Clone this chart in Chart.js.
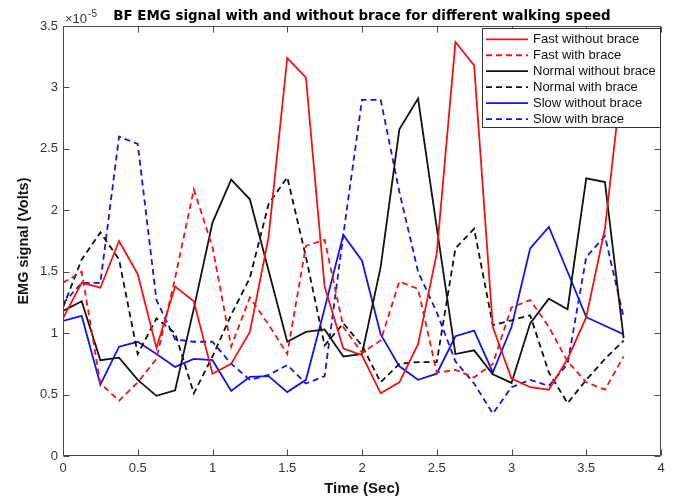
<!DOCTYPE html>
<html><head><meta charset="utf-8">
<script src="https://cdn.jsdelivr.net/npm/chart.js@4.4.1/dist/chart.umd.min.js"></script>
<style>html,body{margin:0;padding:0;background:#fff}canvas{display:block}</style>
</head><body>
<canvas id="c" width="676" height="502"></canvas>
<script>
// ---- data (EMG signal, units of 1e-5 V) ----
const timeSec = [0,0.125,0.25,0.375,0.5,0.625,0.75,0.875,1,1.125,1.25,1.375,1.5,1.625,1.75,1.875,2,2.125,2.25,2.375,2.5,2.625,2.75,2.875,3,3.125,3.25,3.375,3.5,3.625,3.75];
const fastWithout   = [1.12,1.41,1.37,1.75,1.48,0.88,1.38,1.26,0.67,0.75,1.01,1.78,3.24,3.08,1.38,0.875,0.82,0.51,0.60,0.91,1.65,3.37,3.18,1.05,0.63,0.56,0.54,0.79,1.13,1.85,3.2];
const fastWith      = [1.41,1.50,0.59,0.45,0.60,0.79,1.45,2.17,1.70,0.89,1.29,1.07,0.83,1.71,1.76,1.05,0.84,0.94,1.42,1.36,0.68,0.70,0.64,0.75,1.21,1.27,1.05,0.77,0.60,0.54,0.81];
const normalWithout = [1.18,1.26,0.78,0.80,0.62,0.49,0.535,1.2,1.90,2.25,2.09,1.51,0.93,1.01,1.03,0.81,0.83,1.54,2.66,2.91,1.86,0.83,0.86,0.665,0.595,1.08,1.28,1.195,2.26,2.23,0.96];
const normalWith    = [1.21,1.6,1.82,1.6,0.83,1.12,1.0,0.51,0.81,1.15,1.45,2.05,2.27,1.62,0.9,1.08,0.9,0.60,0.75,0.765,0.765,1.69,1.85,1.065,1.105,1.145,0.68,0.43,0.62,0.79,0.94];
const slowWithout   = [1.10,1.14,0.58,0.89,0.93,0.83,0.725,0.79,0.78,0.53,0.645,0.65,0.52,0.62,1.2,1.80,1.59,0.99,0.73,0.62,0.67,0.975,1.02,0.68,1.05,1.69,1.865,1.5,1.13,1.06,0.99];
const slowWith      = [1.24,1.41,1.41,2.60,2.54,1.27,0.95,0.93,0.93,0.75,0.62,0.66,0.74,0.59,0.65,1.8,2.90,2.90,2.15,1.50,1.17,0.77,0.59,0.345,0.56,0.62,0.57,0.75,1.62,1.79,1.13];
const seriesLabels = ['Fast without brace','Fast with brace','Normal without brace','Normal with brace','Slow without brace','Slow with brace'];
const xTickLabels = ['0','0.5','1','1.5','2','2.5','3','3.5','4'];
const yTickLabels = ['0','0.5','1','1.5','2','2.5','3','3.5'];

const RED='rgb(240,20,20)', BLACK='#111111', BLUE='rgb(20,20,235)';
const FONT='"Liberation Sans", Arial, Helvetica, sans-serif';
const AXIS='#4a4a4a';

function pts(arr){ return timeSec.map((t,i)=>({x:t,y:arr[i]})); }
function ds(label, arr, color, dashed){
  return {label, data:pts(arr), borderColor:color, backgroundColor:color, borderWidth:1.8,
          borderDash: dashed?[6,4]:[], pointRadius:0, tension:0, fill:false};
}

const matlabAxes = {
  id:'matlabAxes',
  afterDraw(chart){
    const {ctx, chartArea:a, scales:{x,y}} = chart;
    ctx.save();
    ctx.strokeStyle=AXIS; ctx.lineWidth=1;
    const L=Math.round(a.left)+0.5, R=Math.round(a.right)-0.5, T=Math.round(a.top)+0.5, B=Math.round(a.bottom)-0.5;
    ctx.beginPath(); ctx.rect(L,T,R-L,B-T); ctx.stroke();
    const tl=6;
    ctx.beginPath();
    x.ticks.forEach(tk=>{ const px=Math.round(x.getPixelForValue(tk.value))+0.5;
      ctx.moveTo(px,B); ctx.lineTo(px,B-tl); ctx.moveTo(px,T); ctx.lineTo(px,T+tl); });
    y.ticks.forEach(tk=>{ const py=Math.round(y.getPixelForValue(tk.value))+0.5;
      ctx.moveTo(L,py); ctx.lineTo(L+tl,py); ctx.moveTo(R,py); ctx.lineTo(R-tl,py); });
    ctx.stroke();
    // exponent label
    ctx.fillStyle='#333'; ctx.textBaseline='alphabetic'; ctx.textAlign='left';
    ctx.font='13px '+FONT; ctx.fillText('\u00d710', a.left+2, a.top-3);
    const w=ctx.measureText('\u00d710').width;
    ctx.font='10px '+FONT; ctx.fillText('-5', a.left+2+w+1, a.top-9);
    ctx.restore();
  }
};

const legendBox = {
  id:'legendBox',
  afterDraw(chart){
    const ctx=chart.ctx, a=chart.chartArea, sets=chart.data.datasets;
    const w=179, rowH=15.95;
    const x0=Math.round(a.right)-w, y0=28;
    const h=Math.round(sets.length*rowH+4);
    ctx.save();
    ctx.fillStyle='#fff'; ctx.fillRect(x0,y0,w,h);
    ctx.strokeStyle='#333'; ctx.lineWidth=1; ctx.strokeRect(x0+0.5,y0+0.5,w-1,h-1);
    ctx.font='13px '+FONT; ctx.textBaseline='middle'; ctx.textAlign='left';
    sets.forEach((d,i)=>{
      const cy=y0+11.3+i*rowH;
      ctx.beginPath(); ctx.setLineDash(d.borderDash||[]); ctx.strokeStyle=d.borderColor; ctx.lineWidth=d.borderWidth;
      ctx.moveTo(x0+4,cy); ctx.lineTo(x0+46,cy); ctx.stroke(); ctx.setLineDash([]);
      ctx.fillStyle='#111'; ctx.fillText(d.label, x0+51, cy+0.5);
    });
    ctx.restore();
  }
};

new Chart(document.getElementById('c'), {
  type:'line',
  data:{ datasets:[
    ds(seriesLabels[0], fastWithout, RED, false),
    ds(seriesLabels[1], fastWith, RED, true),
    ds(seriesLabels[2], normalWithout, BLACK, false),
    ds(seriesLabels[3], normalWith, BLACK, true),
    ds(seriesLabels[4], slowWithout, BLUE, false),
    ds(seriesLabels[5], slowWith, BLUE, true)
  ]},
  options:{
    responsive:false, animation:false, devicePixelRatio:1,
    layout:{padding:{left:0,right:15,top:0,bottom:0}},
    plugins:{
      legend:{display:false}, tooltip:{enabled:false},
      title:{display:true, fullSize:false, text:'BF EMG signal with and without brace for different walking speed',
        color:'#000', font:{family:'"DejaVu Sans", sans-serif', size:13.4, weight:'bold'}, padding:{top:8,bottom:2}}
    },
    scales:{
      x:{type:'linear', min:0, max:4,
        ticks:{stepSize:0.5, padding:5, color:'#333', font:{family:FONT,size:13}, maxRotation:0, autoSkip:false,
          callback:(v,i)=>xTickLabels[i]},
        grid:{display:false, drawTicks:false}, border:{display:false},
        title:{display:true, text:'Time (Sec)', color:'#111', font:{family:FONT,size:15,weight:'bold'}, padding:{top:0,bottom:4}},
        afterFit(s){ s.height=46; }
      },
      y:{type:'linear', min:0, max:3.5,
        ticks:{stepSize:0.5, padding:5, color:'#333', font:{family:FONT,size:13},
          callback:(v,i)=>yTickLabels[i]},
        grid:{display:false, drawTicks:false}, border:{display:false},
        title:{display:true, text:'EMG signal (Volts)', color:'#111', font:{family:FONT,size:14.5,weight:'bold'}, padding:{top:15,bottom:0}},
        afterFit(s){ s.width=63; }
      }
    }
  },
  plugins:[matlabAxes, legendBox]
});
</script>
</body></html>
